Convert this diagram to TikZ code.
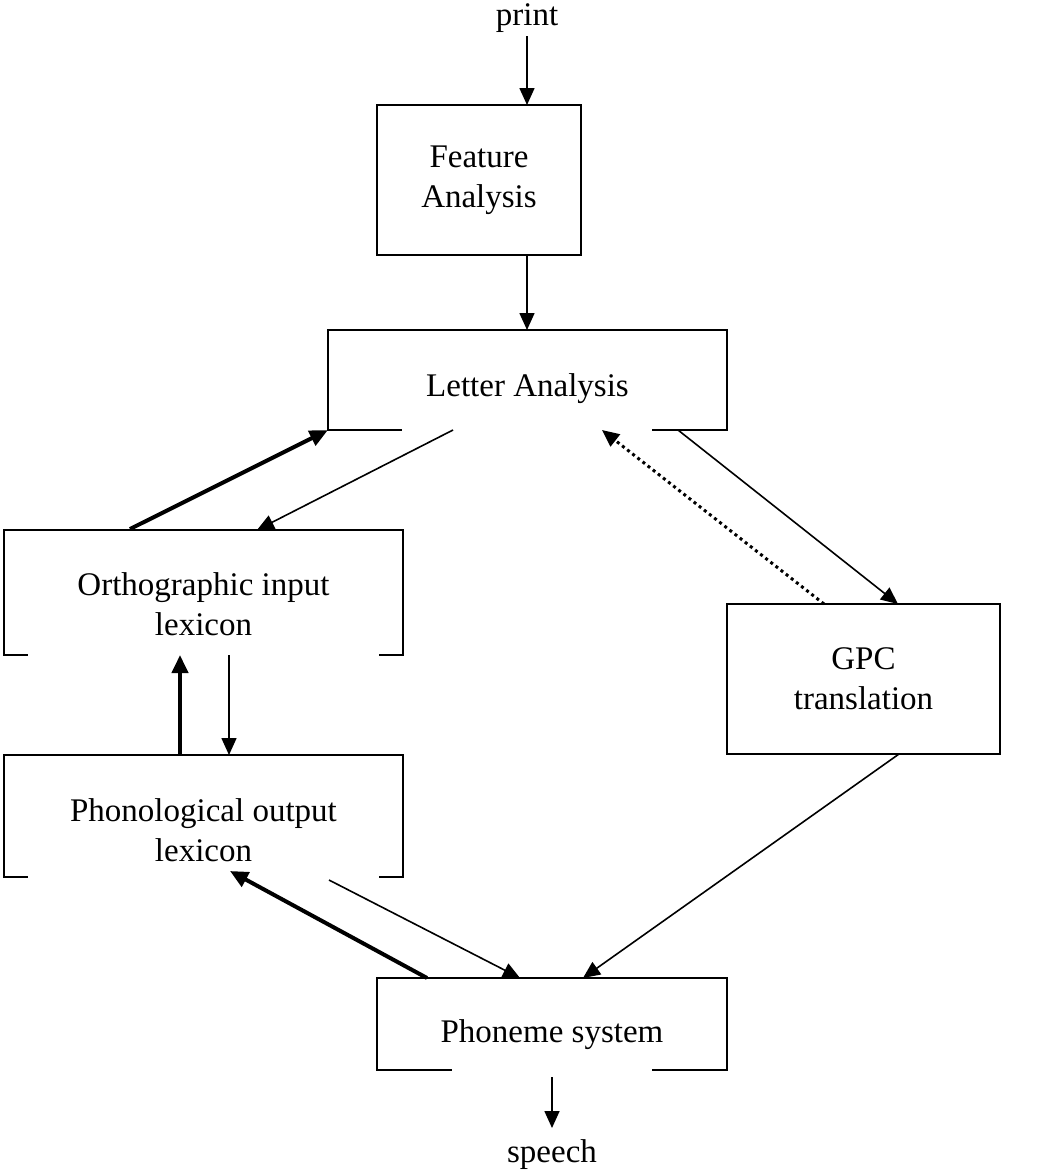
\documentclass[tikz,border=0pt]{standalone}
\usepackage{fontspec}
\setmainfont{Liberation Serif}
\usetikzlibrary{arrows.meta}
\begin{document}
\begin{tikzpicture}[x=1pt,y=-1pt,
  lbl/.style={font=\fontsize{33}{40}\selectfont, align=center, inner sep=0pt},
  fullbox/.style={draw, line width=1.6pt, inner sep=0pt, font=\fontsize{33}{40}\selectfont, align=center},
  openbox/.style={inner sep=0pt},
  frame/.style={line width=1.6pt},
  thin/.style={line width=1.6pt, -{Triangle[length=17pt,width=15pt]}},
  thick/.style={line width=4pt, -{Triangle[length=18pt,width=16pt]}},
  dots/.style={line width=3pt, dash pattern=on 3pt off 3.5pt, -{Triangle[length=17pt,width=15pt]}}
]
\useasboundingbox (0,0) rectangle (1050,1175);

% boxes
\node[lbl] (print) at (527,18) {print};
\node[fullbox, minimum width=204pt, minimum height=150pt] (FA) at (479,180) {Feature\\Analysis};
\node[openbox, minimum width=399pt, minimum height=100pt] (LA) at (527.5,380) {};
\node[openbox, minimum width=399pt, minimum height=125pt] (OI) at (203.5,592.5) {};
\node[fullbox, minimum width=273pt, minimum height=150pt] (GPC) at (863.5,679) {GPC\\translation};
\node[openbox, minimum width=399pt, minimum height=122pt] (PO) at (203.5,816) {};
\node[openbox, minimum width=350pt, minimum height=92pt] (PS) at (552,1024) {};
\node[lbl] (speech) at (552,1155) {speech};

% texts of the open boxes
\node[lbl] (LAt) at ([yshift=-9pt]LA.center) {Letter Analysis};
\node[lbl] (OIt) at ([yshift=-12pt]OI.center) {Orthographic input\\lexicon};
\node[lbl] (POt) at ([yshift=-14pt]PO.center) {Phonological output\\lexicon};
\node[lbl] (PSt) at ([yshift=-11pt]PS.center) {Phoneme system};

% open frames
\draw[frame] ([xshift=74pt]LA.south west) -- (LA.south west) -- (LA.north west) -- (LA.north east) -- (LA.south east) -- ([xshift=-75pt]LA.south east);
\draw[frame] ([xshift=24pt]OI.south west) -- (OI.south west) -- (OI.north west) -- (OI.north east) -- (OI.south east) -- ([xshift=-24pt]OI.south east);
\draw[frame] ([xshift=24pt]PO.south west) -- (PO.south west) -- (PO.north west) -- (PO.north east) -- (PO.south east) -- ([xshift=-24pt]PO.south east);
\draw[frame] ([xshift=75pt]PS.south west) -- (PS.south west) -- (PS.north west) -- (PS.north east) -- (PS.south east) -- ([xshift=-75pt]PS.south east);

% connector endpoints
\coordinate (p0) at (527,36);
\coordinate (FAtop) at (527,105);
\coordinate (FAbot) at (527,255);
\coordinate (LAtop) at (527,330);
\coordinate (OIa) at (130,529);
\coordinate (LAb) at (453,430);
\coordinate (OIb) at (257,530);
\coordinate (GPCa) at (824,604);
\coordinate (LAc) at (602,430);
\coordinate (LAd) at (678,430);
\coordinate (GPCb) at (898,604);
\coordinate (POa) at (180,755);
\coordinate (OIc) at (180,655);
\coordinate (OId) at (229,655);
\coordinate (POb) at (229,755);
\coordinate (PSa) at (427,978);
\coordinate (POc) at (230,871);
\coordinate (POd) at (329,880);
\coordinate (PSb) at (520,978);
\coordinate (GPCc) at (899,754);
\coordinate (PSc) at (583,978);
\coordinate (PSd) at (552,1077);
\coordinate (sp) at (552,1128);

% connectors
\draw[thin] (p0) -- (FAtop);
\draw[thin] (FAbot) -- (LAtop);
\draw[thick] (OIa) -- (LA.south west);
\draw[thin] (LAb) -- (OIb);
\draw[dots] (GPCa) -- (LAc);
\draw[thin] (LAd) -- (GPCb);
\draw[thick] (POa) -- (OIc);
\draw[thin] (OId) -- (POb);
\draw[thick] (PSa) -- (POc);
\draw[thin] (POd) -- (PSb);
\draw[thin] (GPCc) -- (PSc);
\draw[thin] (PSd) -- (sp);
\end{tikzpicture}
\end{document}
